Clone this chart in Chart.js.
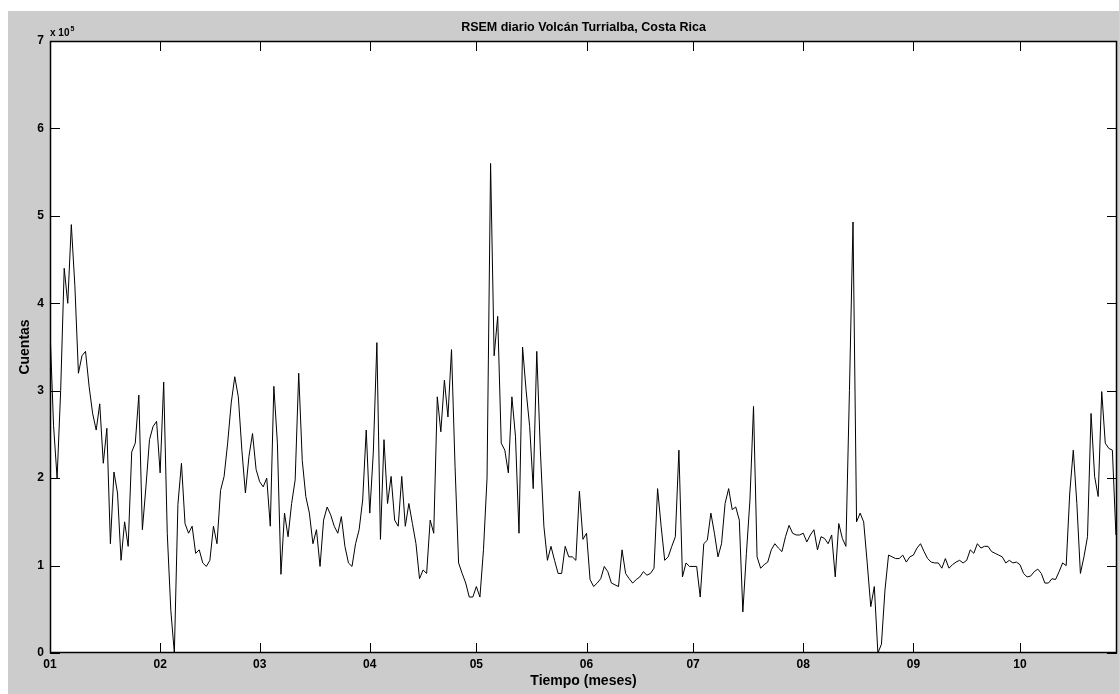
<!DOCTYPE html>
<html>
<head>
<meta charset="utf-8">
<script src="https://cdn.jsdelivr.net/npm/chart.js@4.4.1/dist/chart.umd.min.js"></script>
<style>
  html, body { margin: 0; padding: 0; background: #fff; }
  #wrap { position: absolute; left: 0; top: 0; width: 1119px; height: 694px; }
</style>
</head>
<body>
<div id="wrap"><canvas id="rsem" width="1119" height="694"></canvas></div>
<script>
// Valores diarios de RSEM (x 10^5 cuentas), uno por día desde el 1 de enero
const ene = [3.7, 2.6, 2.0, 3.0, 4.4, 4.0, 4.9, 4.2, 3.2, 3.4, 3.45, 3.05, 2.74, 2.55, 2.85, 2.17, 2.57, 1.25, 2.07, 1.83, 1.06, 1.5, 1.22, 2.3, 2.4, 2.95, 1.41, 1.9, 2.44, 2.59, 2.65];
const feb = [2.06, 3.1, 1.37, 0.49, 0, 1.7, 2.17, 1.48, 1.37, 1.45, 1.14, 1.18, 1.03, 0.99, 1.06, 1.45, 1.25, 1.86, 2.02, 2.4, 2.86, 3.16, 2.93, 2.32, 1.83, 2.25, 2.51, 2.1];
const mar = [1.96, 1.9, 2.0, 1.45, 3.05, 2.4, 0.9, 1.6, 1.33, 1.71, 1.98, 3.2, 2.2, 1.79, 1.6, 1.25, 1.41, 0.99, 1.52, 1.67, 1.58, 1.45, 1.37, 1.56, 1.22, 1.03, 0.99, 1.25, 1.41, 1.75, 2.55];
const abr = [1.6, 2.3, 3.55, 1.3, 2.44, 1.71, 2.02, 1.52, 1.45, 2.02, 1.45, 1.71, 1.48, 1.25, 0.85, 0.95, 0.91, 1.52, 1.37, 2.93, 2.53, 3.12, 2.7, 3.47, 2.13, 1.03, 0.91, 0.8, 0.64, 0.64];
const may = [0.76, 0.64, 1.18, 2.0, 5.6, 3.4, 3.85, 2.4, 2.32, 2.06, 2.93, 2.48, 1.37, 3.5, 3.0, 2.59, 1.88, 3.45, 2.32, 1.45, 1.06, 1.22, 1.06, 0.91, 0.91, 1.22, 1.1, 1.1, 1.06, 1.85, 1.3];
const jun = [1.37, 0.84, 0.76, 0.8, 0.85, 0.99, 0.93, 0.8, 0.78, 0.76, 1.18, 0.91, 0.85, 0.8, 0.84, 0.87, 0.93, 0.89, 0.91, 0.97, 1.88, 1.45, 1.06, 1.1, 1.22, 1.33, 2.32, 0.87, 1.03, 0.99];
const jul = [0.99, 0.99, 0.64, 1.25, 1.29, 1.6, 1.37, 1.1, 1.25, 1.71, 1.88, 1.64, 1.67, 1.52, 0.47, 1.14, 1.75, 2.82, 1.1, 0.97, 1.01, 1.04, 1.18, 1.25, 1.2, 1.16, 1.33, 1.46, 1.37, 1.35, 1.35];
const ago = [1.37, 1.27, 1.35, 1.41, 1.18, 1.33, 1.31, 1.25, 1.35, 0.87, 1.48, 1.31, 1.22, 3.0, 4.93, 1.5, 1.6, 1.5, 1.03, 0.53, 0.76, 0, 0.1, 0.72, 1.12, 1.1, 1.08, 1.08, 1.12, 1.04, 1.1];
const sep = [1.12, 1.2, 1.25, 1.16, 1.08, 1.04, 1.03, 1.03, 0.97, 1.08, 0.97, 1.01, 1.04, 1.06, 1.03, 1.06, 1.18, 1.14, 1.25, 1.2, 1.22, 1.22, 1.16, 1.14, 1.12, 1.1, 1.03, 1.06, 1.03, 1.04];
const oct = [1.01, 0.91, 0.87, 0.88, 0.93, 0.96, 0.91, 0.8, 0.8, 0.85, 0.84, 0.93, 1.03, 1.0, 1.83, 2.32, 1.71, 0.91, 1.1, 1.33, 2.74, 2.02, 1.79, 2.99, 2.4, 2.34, 2.32, 1.35];

// Ejes
const meses = ['01', '02', '03', '04', '05', '06', '07', '08', '09', '10'];
const inicioMes = [0, 31, 59, 90, 120, 151, 181, 212, 243, 273];
const yTicks = [0, 1, 2, 3, 4, 5, 6, 7];
const diaMax = 300.3;

const cuentas = [].concat(ene, feb, mar, abr, may, jun, jul, ago, sep, oct);
const puntos = cuentas.map((v, i) => ({ x: i, y: v }));

const FONT = '"Liberation Sans", Arial, Helvetica, sans-serif';
Chart.defaults.font.family = FONT;
Chart.defaults.color = '#000';

// fondo gris, marco, marcas hacia dentro y "x 10^5"
const estiloMatlab = {
  id: 'estiloMatlab',
  beforeDraw(chart) {
    const { ctx, chartArea: a } = chart;
    ctx.save();
    ctx.fillStyle = '#cccccc';
    ctx.fillRect(8, 11, chart.width - 8, chart.height - 11);
    ctx.fillStyle = '#ffffff';
    ctx.fillRect(a.left, a.top, a.right - a.left, a.bottom - a.top);
    ctx.restore();
  },
  afterDraw(chart) {
    const { ctx, chartArea: a, scales: { x, y } } = chart;
    ctx.save();
    ctx.strokeStyle = '#000';
    ctx.lineWidth = 1;
    ctx.beginPath();
    x.ticks.forEach(t => {
      const px = Math.round(x.getPixelForValue(t.value)) + 0.5;
      ctx.moveTo(px, a.bottom); ctx.lineTo(px, a.bottom - 10);
      ctx.moveTo(px, a.top); ctx.lineTo(px, a.top + 10);
    });
    y.ticks.forEach(t => {
      const py = Math.round(y.getPixelForValue(t.value)) + 0.5;
      ctx.moveTo(a.left, py); ctx.lineTo(a.left + 10, py);
      ctx.moveTo(a.right, py); ctx.lineTo(a.right - 10, py);
    });
    ctx.stroke();
    ctx.lineWidth = 1.5;
    ctx.strokeRect(Math.round(a.left) + 0.5, Math.round(a.top) + 0.5,
      Math.round(a.right - a.left) - 1, Math.round(a.bottom - a.top) - 1);
    // multiplicador del eje y
    ctx.fillStyle = '#000';
    ctx.textBaseline = 'alphabetic';
    ctx.font = 'bold 10px ' + FONT;
    ctx.fillText('x 10', a.left, a.top - 5);
    const w = ctx.measureText('x 10').width;
    ctx.font = 'bold 7px ' + FONT;
    ctx.fillText('5', a.left + w + 1, a.top - 10);
    ctx.restore();
  }
};

new Chart(document.getElementById('rsem'), {
  type: 'line',
  data: {
    datasets: [{
      data: puntos,
      borderColor: '#000',
      borderWidth: 1,
      pointRadius: 0,
      tension: 0,
      fill: false
    }]
  },
  options: {
    responsive: false,
    animation: false,
    events: [],
    layout: { padding: { left: 0, right: 2, top: 0, bottom: 0 } },
    plugins: {
      legend: { display: false },
      tooltip: { enabled: false },
      title: {
        display: true,
        text: 'RSEM diario Volcán Turrialba, Costa Rica',
        fullSize: false,
        color: '#000',
        font: { size: 12.5, weight: 'bold' },
        padding: { top: 20, bottom: 6 }
      }
    },
    scales: {
      x: {
        type: 'linear',
        min: 0,
        max: diaMax,
        grid: { display: false, drawTicks: false },
        border: { display: false },
        afterBuildTicks: scale => { scale.ticks = inicioMes.map(v => ({ value: v })); },
        afterFit: scale => { scale.height = 41; },
        ticks: {
          autoSkip: false,
          maxRotation: 0,
          padding: 4,
          font: { size: 12, weight: 'bold' },
          callback: v => meses[inicioMes.indexOf(v)]
        },
        title: {
          display: true,
          text: 'Tiempo (meses)',
          font: { size: 14, weight: 'bold' },
          padding: { top: 0, bottom: 4 }
        }
      },
      y: {
        min: 0,
        max: 7,
        grid: { display: false, drawTicks: false },
        border: { display: false },
        afterBuildTicks: scale => { scale.ticks = yTicks.map(v => ({ value: v })); },
        afterFit: scale => { scale.width = 50; },
        ticks: {
          padding: 6,
          font: { size: 12, weight: 'bold' },
          callback: v => String(v)
        },
        title: {
          display: true,
          text: 'Cuentas',
          font: { size: 14, weight: 'bold' },
          padding: { top: 17, bottom: 0 }
        }
      }
    }
  },
  plugins: [estiloMatlab]
});
</script>
</body>
</html>
